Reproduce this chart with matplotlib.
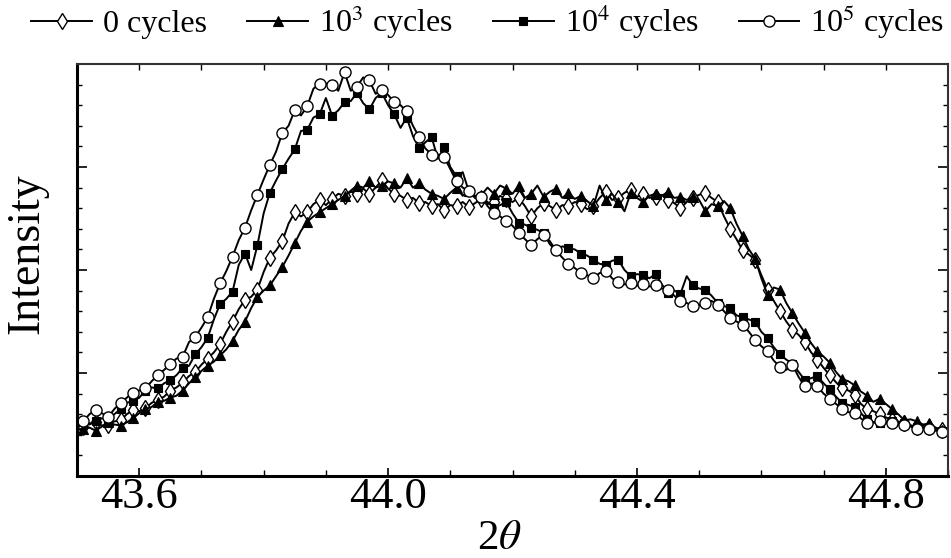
import numpy as np
import matplotlib
matplotlib.use("Agg")
import matplotlib.pyplot as plt
from matplotlib.ticker import MultipleLocator

plt.rcParams['font.family'] = ['Liberation Serif', 'DejaVu Serif']
plt.rcParams['mathtext.fontset'] = 'stix'

# 2-theta from 43.50 to 44.90 in 0.01 steps
two_theta = np.round(np.arange(4350, 4491) / 100.0, 2)

cycles_0 = [
    0.47, 0.48, 0.51, 0.52, 0.49, 0.50, 0.53, 0.54, 0.60, 0.64,
    0.63, 0.66, 0.71, 0.74, 0.77, 0.83, 0.86, 0.91, 0.97, 1.01,
    1.08, 1.14, 1.20, 1.28, 1.40, 1.50, 1.62, 1.71, 1.74, 1.81,
    1.98, 2.12, 2.19, 2.28, 2.45, 2.56, 2.52, 2.56, 2.64, 2.68,
    2.63, 2.69, 2.74, 2.72, 2.76, 2.74, 2.79, 2.74, 2.80, 2.87,
    2.79, 2.74, 2.72, 2.68, 2.70, 2.65, 2.66, 2.62, 2.64, 2.58,
    2.63, 2.62, 2.66, 2.61, 2.65, 2.69, 2.64, 2.66, 2.72, 2.69,
    2.66, 2.70, 2.62, 2.52, 2.60, 2.65, 2.62, 2.58, 2.63, 2.62,
    2.66, 2.64, 2.59, 2.62, 2.70, 2.76, 2.68, 2.70, 2.75, 2.78,
    2.71, 2.74, 2.70, 2.71, 2.73, 2.68, 2.65, 2.60, 2.66, 2.70,
    2.73, 2.75, 2.70, 2.66, 2.52, 2.40, 2.30, 2.19, 2.15, 2.10,
    1.95, 1.81, 1.70, 1.60, 1.50, 1.42, 1.37, 1.30, 1.20, 1.13,
    1.05, 0.98, 0.91, 0.85, 0.83, 0.79, 0.70, 0.65, 0.63, 0.60,
    0.57, 0.54, 0.53, 0.51, 0.49, 0.48, 0.49, 0.48, 0.46, 0.45,
    0.44]

cycles_1e3 = [
    0.45, 0.46, 0.47, 0.44, 0.48, 0.52, 0.50, 0.49, 0.52, 0.56,
    0.61, 0.65, 0.67, 0.72, 0.73, 0.76, 0.78, 0.83, 0.90, 0.96,
    1.02, 1.07, 1.11, 1.17, 1.23, 1.31, 1.42, 1.50, 1.63, 1.74,
    1.80, 1.85, 1.94, 2.03, 2.14, 2.26, 2.38, 2.47, 2.52, 2.56,
    2.60, 2.64, 2.68, 2.72, 2.77, 2.82, 2.80, 2.86, 2.80, 2.82,
    2.86, 2.84, 2.80, 2.89, 2.80, 2.84, 2.78, 2.74, 2.72, 2.69,
    2.75, 2.80, 2.72, 2.77, 2.70, 2.73, 2.80, 2.74, 2.82, 2.79,
    2.74, 2.82, 2.70, 2.74, 2.82, 2.71, 2.76, 2.79, 2.70, 2.75,
    2.69, 2.72, 2.67, 2.62, 2.82, 2.68, 2.74, 2.66, 2.57, 2.75,
    2.70, 2.66, 2.72, 2.74, 2.72, 2.76, 2.70, 2.71, 2.68, 2.71,
    2.68, 2.57, 2.64, 2.62, 2.67, 2.60, 2.45, 2.33, 2.20, 2.11,
    1.92, 1.76, 1.83, 1.81, 1.68, 1.58, 1.48, 1.39, 1.29, 1.21,
    1.16, 1.10, 1.01, 0.94, 0.92, 0.88, 0.82, 0.78, 0.72, 0.75,
    0.70, 0.65, 0.60, 0.54, 0.55, 0.53, 0.50, 0.51, 0.47, 0.45,
    0.44]

cycles_1e4 = [
    0.48, 0.52, 0.50, 0.53, 0.56, 0.55, 0.60, 0.65, 0.71, 0.73,
    0.76, 0.83, 0.86, 0.85, 0.90, 0.93, 0.98, 1.05, 1.07, 1.18,
    1.25, 1.34, 1.52, 1.67, 1.72, 1.79, 2.05, 2.16, 2.00, 2.24,
    2.55, 2.75, 2.87, 2.98, 3.08, 3.17, 3.35, 3.36, 3.48, 3.51,
    3.67, 3.50, 3.55, 3.63, 3.64, 3.72, 3.62, 3.56, 3.67, 3.72,
    3.60, 3.51, 3.38, 3.48, 3.30, 3.18, 3.24, 3.29, 3.08, 3.19,
    3.00, 2.91, 2.95, 2.76, 2.72, 2.71, 2.66, 2.60, 2.63, 2.66,
    2.55, 2.46, 2.44, 2.41, 2.39, 2.36, 2.25, 2.19, 2.23, 2.21,
    2.20, 2.16, 2.14, 2.10, 2.06, 2.05, 2.09, 2.10, 2.00, 1.94,
    1.96, 1.95, 1.92, 1.96, 1.86, 1.78, 1.80, 1.77, 1.94, 1.85,
    1.82, 1.81, 1.75, 1.68, 1.65, 1.63, 1.56, 1.54, 1.52, 1.50,
    1.40, 1.34, 1.25, 1.18, 1.13, 1.09, 1.01, 0.93, 0.95, 0.97,
    0.90, 0.84, 0.77, 0.71, 0.69, 0.67, 0.61, 0.55, 0.52, 0.51,
    0.52, 0.53, 0.52, 0.51, 0.49, 0.48, 0.47, 0.46, 0.45, 0.44,
    0.43]

cycles_1e5 = [
    0.50, 0.53, 0.60, 0.64, 0.61, 0.57, 0.65, 0.71, 0.76, 0.81,
    0.83, 0.85, 0.92, 0.98, 1.03, 1.09, 1.14, 1.16, 1.30, 1.35,
    1.44, 1.54, 1.72, 1.87, 1.99, 2.13, 2.29, 2.41, 2.58, 2.73,
    2.88, 3.02, 3.15, 3.33, 3.40, 3.55, 3.50, 3.59, 3.76, 3.81,
    3.81, 3.80, 3.74, 3.92, 3.74, 3.78, 3.87, 3.84, 3.71, 3.75,
    3.70, 3.63, 3.60, 3.54, 3.40, 3.29, 3.18, 3.12, 3.12, 3.10,
    2.98, 2.86, 2.80, 2.77, 2.70, 2.71, 2.62, 2.55, 2.52, 2.48,
    2.43, 2.36, 2.30, 2.24, 2.30, 2.34, 2.28, 2.19, 2.12, 2.06,
    2.02, 1.97, 1.95, 1.92, 1.97, 1.99, 1.92, 1.88, 1.86, 1.87,
    1.85, 1.86, 1.84, 1.85, 1.82, 1.81, 1.75, 1.70, 1.68, 1.65,
    1.66, 1.68, 1.70, 1.66, 1.60, 1.53, 1.50, 1.47, 1.40, 1.32,
    1.26, 1.21, 1.12, 1.06, 1.03, 1.08, 0.96, 0.87, 0.90, 0.87,
    0.80, 0.75, 0.70, 0.65, 0.62, 0.61, 0.56, 0.51, 0.52, 0.53,
    0.52, 0.51, 0.50, 0.50, 0.48, 0.46, 0.47, 0.46, 0.44, 0.43,
    0.43]

labels = ['0 cycles', '10$^3$ cycles', '10$^4$ cycles', '10$^5$ cycles']
xticks = [43.6, 44.0, 44.4, 44.8]
xtick_labels = ['43.6', '44.0', '44.4', '44.8']

W, H = 951, 558
fig = plt.figure(figsize=(W / 100, H / 100), dpi=100)
ax = fig.add_axes([77 / W, 1 - 476 / H, (948 - 77) / W, (476 - 64) / H])

series = [cycles_0, cycles_1e3, cycles_1e4, cycles_1e5]
styles = [
    dict(marker='d', mfc='white', ms=8.5, mew=1.0),
    dict(marker='^', mfc='black', ms=7, mew=0.8),
    dict(marker='s', mfc='black', ms=5.5, mew=0.8),
    dict(marker='o', mfc='white', ms=8, mew=1.0),
]
handles = []
for ys, st, lab in zip(series, styles, labels):
    h, = ax.plot(two_theta, ys, color='black', lw=1.4, mec='black',
                 markevery=(1, 2), label=lab, clip_on=True, **st)
    handles.append(h)

ax.set_xlim(43.5, 44.9)
ax.set_ylim(0, 4)
ax.set_xticks(xticks)
ax.set_xticklabels(xtick_labels)
ax.xaxis.set_minor_locator(MultipleLocator(0.1))
ax.yaxis.set_major_locator(MultipleLocator(1))
ax.yaxis.set_minor_locator(MultipleLocator(0.2))
ax.tick_params(axis='x', which='major', direction='in', length=6, width=1.2,
               labelsize=32, pad=1, top=False)
ax.tick_params(axis='x', which='minor', direction='in', length=4, width=1.0, top=False)
ax.tick_params(axis='y', which='major', direction='in', length=7, width=1.2,
               left=True, right=True, labelleft=False)
ax.tick_params(axis='y', which='minor', direction='in', length=3.5, width=1.0,
               left=True, right=True)

top = ax.secondary_xaxis('top')
top.set_xticks(np.round(np.arange(43.6, 44.9, 0.1), 1))
top.tick_params(direction='in', length=4, width=1.0, labeltop=False)
top.spines['top'].set_visible(False)

for side in ['left', 'bottom']:
    ax.spines[side].set_linewidth(2.2)
for side in ['top', 'right']:
    ax.spines[side].set_linewidth(1.5)
    ax.spines[side].set_color('#333333')

ax.set_ylabel('Intensity', fontsize=33)
ax.yaxis.set_label_coords(-0.033, 0.54)
ax.set_xlabel('2$\\theta$', fontsize=31)
ax.xaxis.set_label_coords(0.485, -0.105)

fig.legend(handles=handles, labels=labels, loc='center', ncol=4,
           bbox_to_anchor=(0.513, 0.96), frameon=False, fontsize=23,
           handlelength=1.9, handletextpad=0.35, columnspacing=1.25,
           borderaxespad=0)

fig.savefig('out.png', dpi=100)
